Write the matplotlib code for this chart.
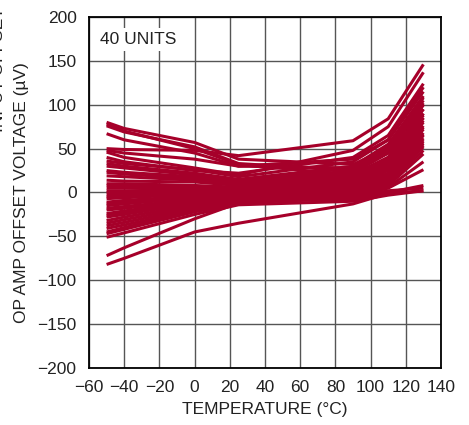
import matplotlib
matplotlib.use('agg')
import matplotlib.pyplot as plt
import matplotlib.ticker as tick

plt.rcParams['font.family'] = ['Liberation Sans', 'DejaVu Sans']
plt.rcParams['axes.unicode_minus'] = True

# temperatures where each unit was measured (deg C)
temps = [-50, -40, 0, 25, 90, 110, 130]

# offset voltage (uV) of the 40 units at each temperature
units = [
    [80, 73, 57, 38, 32, 50, 95],
    [76, 69, 52, 33, 25, 45, 90],
    [67, 60, 45, 30, 28, 48, 100],
    [50, 49, 48, 42, 59, 84, 146],
    [46, 40, 28, 20, 48, 75, 137],
    [40, 35, 25, 22, 40, 65, 124],
    [36, 33, 26, 18, 35, 60, 115],
    [33, 30, 22, 15, 30, 55, 110],
    [23, 21, 16, 12, 25, 48, 105],
    [19, 18, 14, 10, 22, 45, 100],
    [14, 13, 12, 8, 20, 40, 95],
    [10, 10, 8, 6, 18, 37, 90],
    [5, 5, 5, 4, 15, 33, 85],
    [0, 0, 2, 2, 12, 30, 80],
    [-3, -2, 0, 1, 10, 28, 76],
    [-7, -6, -2, 0, 8, 25, 72],
    [-11, -9, -4, -1, 6, 22, 68],
    [-15, -13, -6, -2, 5, 20, 65],
    [-18, -16, -8, -3, 4, 18, 60],
    [-24, -21, -10, -4, 2, 15, 56],
    [-28, -25, -12, -5, 0, 12, 52],
    [-32, -28, -14, -6, -2, 8, 44],
    [-38, -34, -18, -8, -5, 5, 26],
    [-41, -37, -20, -10, -8, 0, 8],
    [-47, -42, -22, -12, -6, 2, 5],
    [-51, -46, -25, -14, -10, -3, 2],
    [-72, -63, -30, -12, 0, 20, 62],
    [-82, -75, -45, -35, -13, -1, 2],
    [78, 70, 50, 32, 20, 40, 85],
    [48, 45, 38, 30, 38, 60, 120],
    [30, 28, 20, 14, 28, 52, 108],
    [25, 23, 18, 13, 24, 47, 102],
    [8, 8, 7, 5, 17, 35, 88],
    [2, 2, 3, 3, 13, 31, 82],
    [-5, -4, -1, 0, 9, 26, 74],
    [-13, -11, -5, -1, 6, 21, 66],
    [-20, -18, -9, -3, 3, 17, 58],
    [-26, -23, -11, -4, 1, 14, 54],
    [-35, -31, -16, -7, -3, 10, 48],
    [-45, -40, -21, -11, -4, 6, 35],
]

line_color = '#a6002a'
W, H = 469, 425

fig = plt.figure(figsize=(W / 100, H / 100), dpi=100)
ax = fig.add_axes([89 / W, 1 - 368 / H, (441 - 89) / W, (368 - 17) / H])

for vals in units:
    ax.plot(temps, vals, color=line_color, lw=2.2, solid_capstyle='butt', zorder=3)

ax.set_xlim(-60, 140)
ax.set_ylim(-200, 200)
ax.xaxis.set_major_locator(tick.MultipleLocator(20))
ax.yaxis.set_major_locator(tick.MultipleLocator(50))
ax.grid(True, color='#555555', lw=1.0, zorder=1)
ax.set_axisbelow(True)
for sp in ax.spines.values():
    sp.set_linewidth(1.3)
    sp.set_color('black')
ax.tick_params(length=0, labelsize=12.5, colors='#222222')
ax.tick_params(axis='x', pad=9)
ax.tick_params(axis='y', pad=9)

ax.set_xlabel('TEMPERATURE (°C)', fontsize=12.5, color='#222222', labelpad=5)
ax.set_ylabel('OP AMP OFFSET VOLTAGE (µV)', fontsize=12.5, color='#222222', labelpad=6)

ax.text(-54, 174, '40 UNITS', fontsize=12.5, color='#222222', va='center', ha='left',
        bbox=dict(facecolor='white', edgecolor='none', pad=3), zorder=4)

# second label line, cut off by the left edge of the picture
fig.text(6 / W, 1 - 132 / H, 'INPUT OFFSET VOLTAGE CHANGE (µV)', rotation=90,
         fontsize=12.5, color='#222222', ha='right', va='bottom')

fig.savefig('out.png', dpi=100)
